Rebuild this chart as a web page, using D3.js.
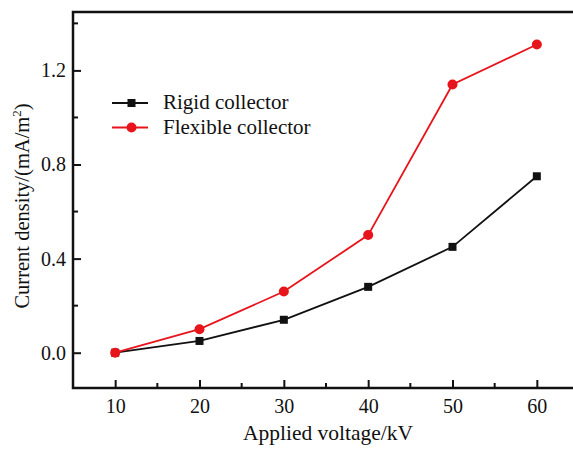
<!DOCTYPE html>
<html><head><meta charset="utf-8">
<script src="https://cdn.jsdelivr.net/npm/d3@7"></script>
<style>body{margin:0;background:#fff}svg{display:block;font-family:"Liberation Serif","Times New Roman",serif}</style>
</head><body><svg id="c" width="573" height="450"></svg>
<script>
const voltages = [10, 20, 30, 40, 50, 60];
const rigid = [0, 0.05, 0.14, 0.28, 0.45, 0.75];
const flexible = [0, 0.10, 0.26, 0.50, 1.14, 1.31];
const xTicks = [10, 20, 30, 40, 50, 60];
const yTicks = [0.0, 0.4, 0.8, 1.2];
const seriesNames = ["Rigid collector", "Flexible collector"];

const svg = d3.select("#c");
const L = 73, R = 579, T = 12, B = 388;
const x = d3.scaleLinear().domain([5, 65]).range([L, R]);
const y = d3.scaleLinear().domain([-0.15, 1.4483]).range([B, T]);

// frame
svg.append("rect").attr("x", L).attr("y", T).attr("width", R - L).attr("height", B - T)
  .attr("fill", "none").attr("stroke", "#111").attr("stroke-width", 2.5);

// y axis
const yAxis = d3.axisLeft(y).tickValues(yTicks).tickFormat(d3.format(".1f")).tickSizeInner(-8).tickSizeOuter(0).tickPadding(7);
const gy = svg.append("g").attr("transform", `translate(${L},0)`).call(yAxis);
gy.select(".domain").remove();
gy.selectAll(".tick line").attr("stroke", "#111").attr("stroke-width", 2);
gy.selectAll(".tick text").attr("font-size", 20).attr("fill", "#111").attr("font-family", "Liberation Serif");
const yMinor = [-0.2, 0.2, 0.6, 1.0, 1.4].filter(v => v >= -0.15);
svg.append("g").selectAll("line").data(yMinor).join("line")
  .attr("x1", L).attr("x2", L + 5).attr("y1", d => y(d)).attr("y2", d => y(d))
  .attr("stroke", "#111").attr("stroke-width", 2);

// x axis
const xAxis = d3.axisBottom(x).tickValues(xTicks).tickFormat(d3.format("d")).tickSizeInner(-8).tickSizeOuter(0).tickPadding(11);
const gx = svg.append("g").attr("transform", `translate(0,${B})`).call(xAxis);
gx.select(".domain").remove();
gx.selectAll(".tick line").attr("stroke", "#111").attr("stroke-width", 2);
gx.selectAll(".tick text").attr("font-size", 20).attr("fill", "#111").attr("font-family", "Liberation Serif");
const xMinor = [15, 25, 35, 45, 55];
svg.append("g").selectAll("line").data(xMinor).join("line")
  .attr("x1", d => x(d)).attr("x2", d => x(d)).attr("y1", B).attr("y2", B - 5)
  .attr("stroke", "#111").attr("stroke-width", 2);

// labels
svg.append("text").attr("x", 328).attr("y", 440).attr("text-anchor", "middle")
  .attr("font-size", 21.5).attr("fill", "#111").text("Applied voltage/kV");
const yl = svg.append("text").attr("transform", "translate(29,206) rotate(-90)")
  .attr("text-anchor", "middle").attr("font-size", 20.5).attr("fill", "#111");
yl.append("tspan").text("Current density/(mA/m");
yl.append("tspan").attr("font-size", 13).attr("dy", -8).text("2");
yl.append("tspan").attr("dy", 8).text(")");

// series
const line = d3.line().x((d, i) => x(voltages[i])).y(d => y(d));
svg.append("path").datum(rigid).attr("d", line).attr("fill", "none").attr("stroke", "#111").attr("stroke-width", 1.8);
svg.append("path").datum(flexible).attr("d", line).attr("fill", "none").attr("stroke", "#e8141c").attr("stroke-width", 1.8);
svg.append("g").selectAll("rect").data(rigid).join("rect")
  .attr("x", (d, i) => x(voltages[i]) - 4).attr("y", d => y(d) - 4).attr("width", 8).attr("height", 8).attr("fill", "#111");
svg.append("g").selectAll("circle").data(flexible).join("circle")
  .attr("cx", (d, i) => x(voltages[i])).attr("cy", d => y(d)).attr("r", 5).attr("fill", "#e8141c");

// legend
const lg = svg.append("g");
const colors = ["#111", "#e8141c"];
seriesNames.forEach((n, i) => {
  const ly = 103 + i * 24.5;
  lg.append("line").attr("x1", 112).attr("x2", 148).attr("y1", ly).attr("y2", ly).attr("stroke", colors[i]).attr("stroke-width", 1.8);
  if (i === 0) lg.append("rect").attr("x", 127.5).attr("y", ly - 4).attr("width", 8).attr("height", 8).attr("fill", colors[i]);
  else lg.append("circle").attr("cx", 131.5).attr("cy", ly).attr("r", 5).attr("fill", colors[i]);
  lg.append("text").attr("x", 163).attr("y", ly + 6).attr("font-size", 21).attr("fill", "#111").text(n);
});
</script></body></html>
